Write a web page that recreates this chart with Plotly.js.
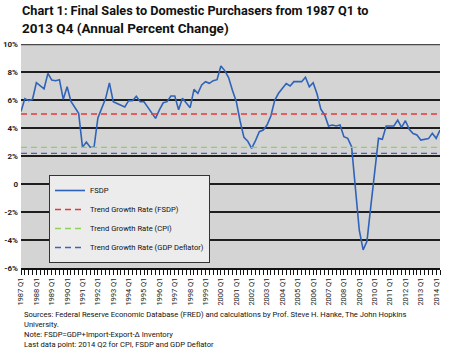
<!DOCTYPE html>
<html><head><meta charset="utf-8">
<script src="https://cdn.plot.ly/plotly-3.0.1.min.js"></script>
<style>html,body{margin:0;padding:0;background:#fff}#chart{width:450px;height:352px}</style>
</head><body><div id="chart"></div>
<script>
// Category labels (quarters)
const years = [1987,1988,1989,1990,1991,1992,1993,1994,1995,1996,1997,1998,1999,2000,2001,2002,2003,2004,2005,2006,2007,2008,2009,2010,2011,2012,2013,2014];
const quarterNames = ['Q1','Q2','Q3','Q4'];
const quarters = [];
years.forEach(y => quarterNames.forEach(q => quarters.push(y + ' ' + q)));
const lastQuarter = '2014 Q2';
const categories = quarters.slice(0, quarters.indexOf(lastQuarter) + 1);

// FSDP annual percent change
const fsdp = [
  5.17, 6.10, 5.95, 6.05, 7.24, 7.00, 6.80, 7.90, 7.42, 7.38, 7.45, 6.05,
  6.95, 5.90, 5.50, 5.05, 2.62, 3.00, 2.62, 2.62, 4.72, 5.40, 6.10, 7.22,
  5.88, 5.75, 5.60, 5.50, 5.95, 5.95, 6.27, 5.88, 5.88, 5.50, 5.10, 4.69,
  5.30, 5.80, 5.88, 6.29, 6.29, 5.30, 6.12, 5.80, 5.45, 6.76, 6.48, 7.07,
  7.31, 7.19, 7.38, 7.45, 8.43, 8.10, 7.60, 6.70, 5.90, 4.50, 3.33, 3.05,
  2.55, 3.10, 3.74, 3.85, 4.21, 4.86, 5.98, 6.48, 6.83, 7.17, 7.00, 7.31,
  7.31, 7.31, 7.62, 6.95, 7.24, 6.45, 5.35, 4.93, 4.14, 4.21, 4.14, 4.21,
  3.38, 3.26, 2.67, -0.30, -3.30, -4.70, -4.10, -1.60, 0.80, 3.26, 3.19, 4.14,
  4.14, 4.14, 4.57, 4.05, 4.52, 3.90, 3.60, 3.50, 3.14, 3.20, 3.24, 3.62,
  3.26, 3.86
];

// Trend growth rates
const trendNames = ['Trend Growth Rate (FSDP)', 'Trend Growth Rate (CPI)', 'Trend Growth Rate (GDP Deflator)'];
const trendValues = [5.0, 2.62, 2.19];
const trendColors = ['#e5383b', '#8fcf5a', '#3b66c0'];

// Axis tick labels
const yTickVals = [-6, -4, -2, 0, 2, 4, 6, 8, 10];
const yTickText = ['-6%', '-4%', '-2%', '0', '2%', '4%', '6%', '8%', '10%'];
const xTickText = categories.map(c => c.endsWith('Q1') ? c : '');

const fam = 'Roboto, "Open Sans", sans-serif';

const traces = [{
  x: categories, y: fsdp, type: 'scatter', mode: 'lines', name: 'FSDP',
  line: {color: '#2f63b9', width: 1.6}
}];
trendNames.forEach((n, k) => {
  traces.push({
    x: [categories[0], categories[categories.length - 1]],
    y: [trendValues[k], trendValues[k]],
    type: 'scatter', mode: 'lines', name: n,
    line: {color: trendColors[k], width: 1.3, dash: '6px,4px'}
  });
});

const L = 21, T = 44, W = 419, H = 224;
const py = Y => (T + H - Y) / H;

const notes = [
  'Sources: Federal Reserve Economic Database (FRED) and calculations by Prof. Steve H. Hanke, The John Hopkins',
  'University.',
  'Note: FSDP=GDP+Import-Export-\u0394 Inventory',
  'Last data point: 2014 Q2 for CPI, FSDP and GDP Deflator'
];

const layout = {
  width: 450, height: 352,
  margin: {l: L, r: 450 - L - W, t: T, b: 352 - T - H, pad: 0},
  paper_bgcolor: '#ffffff', plot_bgcolor: '#d4d4d4',
  showlegend: true,
  title: {
    text: '<b><span style="font-size:12.7px">Chart 1: Final Sales to Domestic Purchasers from 1987 Q1 to</span><br>2013 Q4 (Annual Percent Change)</b>',
    x: 22 / 450, xanchor: 'left', xref: 'container',
    y: 1 - 15 / 352, yanchor: 'top', yref: 'container',
    font: {family: fam, size: 13.5, color: '#111'}
  },
  xaxis: {
    type: 'category', range: [0, categories.length - 1],
    tickmode: 'array', tickvals: categories, ticktext: xTickText,
    tickangle: -90, ticks: 'outside', ticklen: 5, tickwidth: 1, tickcolor: '#111',
    showgrid: false, showline: true, linecolor: '#111', linewidth: 1.5,
    tickfont: {family: fam, size: 7.5, color: '#222'},
    fixedrange: true
  },
  yaxis: {
    range: [-6, 10], tickmode: 'array', tickvals: yTickVals, ticktext: yTickText,
    showgrid: true, gridcolor: '#1e1e1e', gridwidth: 1.3,
    zeroline: true, zerolinecolor: '#1e1e1e', zerolinewidth: 1.3,
    showline: false, ticks: '', ticklabelstandoff: 2,
    tickfont: {family: fam, size: 8, color: '#222', weight: 'bold'},
    fixedrange: true
  },
  legend: {
    x: (49 - L) / W, y: py(175), xanchor: 'left', yanchor: 'top',
    bgcolor: '#ececec', bordercolor: '#333', borderwidth: 1,
    font: {family: fam, size: 7.6, color: '#111'},
    itemwidth: 30, tracegroupgap: 0
  },
  shapes: [{
    type: 'line', xref: 'paper', yref: 'y', x0: 0, x1: 1, y0: 10, y1: 10,
    line: {color: '#4a4a4a', width: 2.5}, layer: 'above'
  }],
  annotations: [{
    text: notes.join('<br>'), xref: 'paper', yref: 'paper', x: (22 - L) / W, y: py(308),
    xanchor: 'left', yanchor: 'top', align: 'left', showarrow: false,
    font: {family: fam, size: 7.6, color: '#111'}
  }]
};

Plotly.newPlot('chart', traces, layout, {staticPlot: true, displayModeBar: false});
</script>
</body></html>
